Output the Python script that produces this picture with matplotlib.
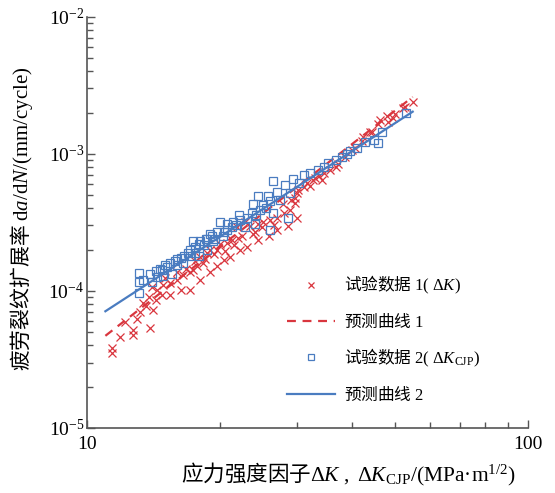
import matplotlib

matplotlib.use("Agg")
import matplotlib.pyplot as plt
import numpy as np
from matplotlib.font_manager import FontProperties
from matplotlib.ticker import LogLocator, NullFormatter

plt.rcParams["font.family"] = ["Liberation Serif", "Noto Sans CJK SC"]
plt.rcParams["mathtext.fontset"] = "custom"
plt.rcParams["mathtext.rm"] = "Liberation Serif"
plt.rcParams["mathtext.sf"] = "Liberation Serif"
plt.rcParams["mathtext.it"] = "Liberation Serif:italic"
plt.rcParams["mathtext.bf"] = "Liberation Serif:bold"

CJK = "Noto Sans CJK SC"

# test data 1: conventional dK
dk1 = [28.9, 29.6, 27.8, 27.0, 26.0, 25.1, 24.4, 23.4, 22.8, 21.9, 22.0, 21.3,
       20.8, 20.0, 19.7, 19.0, 18.7, 18.0, 18.3, 17.8, 17.4, 17.1, 16.5, 16.0,
       15.4, 14.9, 14.4, 14.8, 14.3, 15.4, 13.8, 13.4, 14.1, 13.2, 13.0, 12.7,
       13.9, 11.9, 12.7, 11.4, 11.4, 16.3, 17.1, 18.0, 19.0, 19.7, 20.4, 21.1,
       22.2, 23.1, 24.4, 25.8, 27.0, 28.6, 30.0, 54.8, 52.6, 49.9, 47.9, 48.1,
       45.6, 43.8, 42.0, 40.5, 38.5, 36.7, 34.4, 32.9, 31.6, 30.1, 29.6, 39.9,
       46.2, 49.4, 42.2, 35.6, 32.0, 34.2, 32.6, 30.0, 37.1, 44.2, 52.0,
       15.0, 16.8, 18.5, 19.4, 21.5, 23.8, 25.0, 26.5, 24.0, 22.5, 20.6, 17.6,
       33.5, 31.0, 28.0, 29.0, 16.0, 14.0, 12.2, 13.6]
rate1 = [3.9e-4, 4.4e-4, 4.3e-4, 3.4e-4, 3.3e-4, 3.2e-4, 3.1e-4, 2.95e-4, 3.2e-4,
         2.9e-4, 2.45e-4, 2.36e-4, 2.25e-4, 2.2e-4, 2.0e-4, 2.0e-4, 1.9e-4,
         1.77e-4, 1.6e-4, 1.52e-4, 1.42e-4, 1.37e-4, 1.3e-4, 1.2e-4, 1.15e-4,
         1.1e-4, 1.02e-4, 9.4e-5, 8.6e-5, 9.4e-5, 9.0e-5, 8.2e-5, 7.3e-5, 7.0e-5,
         6.2e-5, 5.2e-5, 5.4e-5, 4.6e-5, 4.8e-5, 3.8e-5, 3.5e-5, 1.02e-4, 1.02e-4,
         1.2e-4, 1.37e-4, 1.52e-4, 1.68e-4, 1.77e-4, 2.0e-4, 2.1e-4, 2.36e-4,
         2.5e-4, 2.8e-4, 2.95e-4, 3.4e-4, 2.4e-3, 2.2e-3, 1.95e-3, 1.9e-3, 1.72e-3,
         1.66e-3, 1.45e-3, 1.23e-3, 1.1e-3, 9.5e-4, 8.0e-4, 7.3e-4, 6.7e-4, 6.1e-4,
         5.4e-4, 4.8e-4, 1.07e-3, 1.77e-3, 1.83e-3, 1.33e-3, 7.6e-4, 5.8e-4,
         6.4e-4, 6.4e-4, 5.2e-4, 8.4e-4, 1.45e-3, 2.15e-3,
         1.25e-4, 1.45e-4, 1.7e-4, 1.85e-4, 2.15e-4, 2.6e-4, 2.9e-4, 3.0e-4,
         2.7e-4, 2.5e-4, 1.95e-4, 1.65e-4, 6.9e-4, 5.7e-4, 3.7e-4, 4.6e-4,
         1.38e-4, 1.07e-4, 5.9e-5, 7.8e-5]

# test data 2: CJP dK
dk2 = [26.4, 28.1, 27.0, 28.9, 24.4, 25.7, 23.8, 25.1, 23.7, 24.7, 26.4, 28.6,
       26.0, 21.4, 20.8, 20.0, 21.3, 20.4, 19.7, 19.0, 18.7, 18.0, 17.4, 17.1,
       16.9, 17.6, 16.3, 16.5, 16.0, 15.4, 15.2, 14.8, 14.3, 14.9, 13.9, 13.4,
       14.0, 13.1, 13.1, 13.1, 14.4, 15.6, 52.9, 45.6, 46.7, 44.8, 42.7, 37.9,
       35.2, 33.4, 31.0, 39.5, 40.9, 36.7, 29.3, 32.0, 38.9, 22.1, 22.2, 19.2,
       18.6, 17.9, 17.1, 17.9, 18.7, 19.3, 20.3, 22.8, 24.0, 26.0,
       14.6, 15.8, 16.6, 17.6, 18.4, 19.5, 20.8, 21.8, 23.0, 24.2, 25.5, 27.4,
       30.2, 34.5, 16.0, 15.0]
rate2 = [6.3e-4, 5.9e-4, 5.3e-4, 5.2e-4, 4.9e-4, 4.9e-4, 4.3e-4, 4.2e-4, 3.7e-4,
         3.9e-4, 3.7e-4, 3.4e-4, 2.8e-4, 3.2e-4, 3.1e-4, 3.2e-4, 2.9e-4, 2.7e-4,
         2.7e-4, 2.6e-4, 2.4e-4, 2.3e-4, 2.3e-4, 2.0e-4, 1.9e-4, 1.9e-4, 1.75e-4,
         1.6e-4, 1.55e-4, 1.6e-4, 1.5e-4, 1.42e-4, 1.39e-4, 1.28e-4, 1.33e-4,
         1.2e-4, 1.16e-4, 1.36e-4, 1.16e-4, 9.6e-5, 1.26e-4, 1.33e-4, 2.0e-3,
         1.2e-3, 1.45e-3, 1.27e-3, 1.21e-3, 9.5e-4, 8.6e-4, 7.6e-4, 7.0e-4,
         1.04e-3, 1.1e-3, 9.0e-4, 6.5e-4, 7.2e-4, 9.9e-4, 3.6e-4, 3.3e-4, 2.5e-4,
         2.4e-4, 2.2e-4, 1.8e-4, 1.8e-4, 2.0e-4, 2.3e-4, 2.5e-4, 2.9e-4, 3.1e-4,
         4.5e-4,
         1.45e-4, 1.65e-4, 1.8e-4, 2.1e-4, 2.15e-4, 2.4e-4, 2.8e-4, 3.0e-4,
         3.4e-4, 3.6e-4, 4.0e-4, 4.6e-4, 6.1e-4, 8.0e-4, 1.7e-4, 1.55e-4]

# predicted curves (Paris law end points)
pred1_dk = [11.0, 54.8]
pred1_rate = [4.7e-5, 2.6e-3]
pred2_dk = [11.0, 54.8]
pred2_rate = [7.1e-5, 2.03e-3]

RED = "#d9363e"
BLUE = "#4a7cc0"

fig = plt.figure(figsize=(5.55, 4.93), dpi=100)
ax = fig.add_axes([0.157, 0.132, 0.794, 0.834])

ax.plot(dk1, rate1, ls="none", marker="x", ms=5.5, mew=0.9, color=RED,
        label=r"试验数据 $\mathsf{1(\ Δ}K\mathsf{)}$")
ax.plot(pred1_dk, pred1_rate, ls=(0, (4, 3)), lw=1.6, color=RED,
        label=r"预测曲线 $\mathsf{1}$")
ax.plot(dk2, rate2, ls="none", marker="s", ms=6, mew=0.9, mfc="none", color=BLUE,
        label=r"试验数据 $\mathsf{2(\ Δ}K_{\mathsf{CJP}}\mathsf{)}$")
ax.plot(pred2_dk, pred2_rate, ls="-", lw=1.6, color=BLUE,
        label=r"预测曲线 $\mathsf{2}$")

ax.set_xscale("log")
ax.set_yscale("log")
ax.set_xlim(10, 100)
ax.set_ylim(1e-5, 1e-2)

for side in ("top", "right"):
    ax.spines[side].set_visible(False)
for side in ("left", "bottom"):
    ax.spines[side].set_color("#555555")
    ax.spines[side].set_linewidth(1.2)

ax.xaxis.set_major_locator(LogLocator(base=10))
ax.xaxis.set_minor_locator(LogLocator(base=10, subs=np.arange(2, 10)))
ax.xaxis.set_minor_formatter(NullFormatter())
ax.yaxis.set_minor_locator(LogLocator(base=10, subs=np.arange(2, 10)))
ax.yaxis.set_minor_formatter(NullFormatter())
ax.xaxis.set_major_formatter(plt.FuncFormatter(lambda v, p: f"{v:g}"))

ax.tick_params(which="both", direction="in", color="#555555", labelsize=14)
ax.tick_params(which="major", length=6, width=1.0)
ax.tick_params(axis="x", which="major", pad=6)
ax.tick_params(axis="y", which="major", pad=2)
ax.tick_params(which="minor", length=4, width=1.0)

ax.set_xlabel(r"应力强度因子$\mathsf{Δ}K\mathsf{\ ,\ Δ}K_{\mathsf{CJP}}"
              r"\mathsf{/(MPa·m}^{\mathsf{1/2}}\mathsf{)}$",
              fontsize=15.5, fontfamily=CJK)
ax.xaxis.set_label_coords(0.593, -0.08)
ax.set_ylabel(r"疲劳裂纹扩展率 $\mathsf{d}a\mathsf{/d}N\mathsf{/(mm/cycle)}$",
              fontsize=15, fontfamily=CJK)
ax.yaxis.set_label_coords(-0.118, 0.51)

ax.legend(loc="upper left", bbox_to_anchor=(0.4535, 0.375), frameon=False,
          borderpad=0, borderaxespad=0,
          prop=FontProperties(family=CJK, size=12),
          handlelength=2.9, handletextpad=0.5, labelspacing=0.95,
          markerscale=0.7)

fig.savefig("out.png", dpi=100)
